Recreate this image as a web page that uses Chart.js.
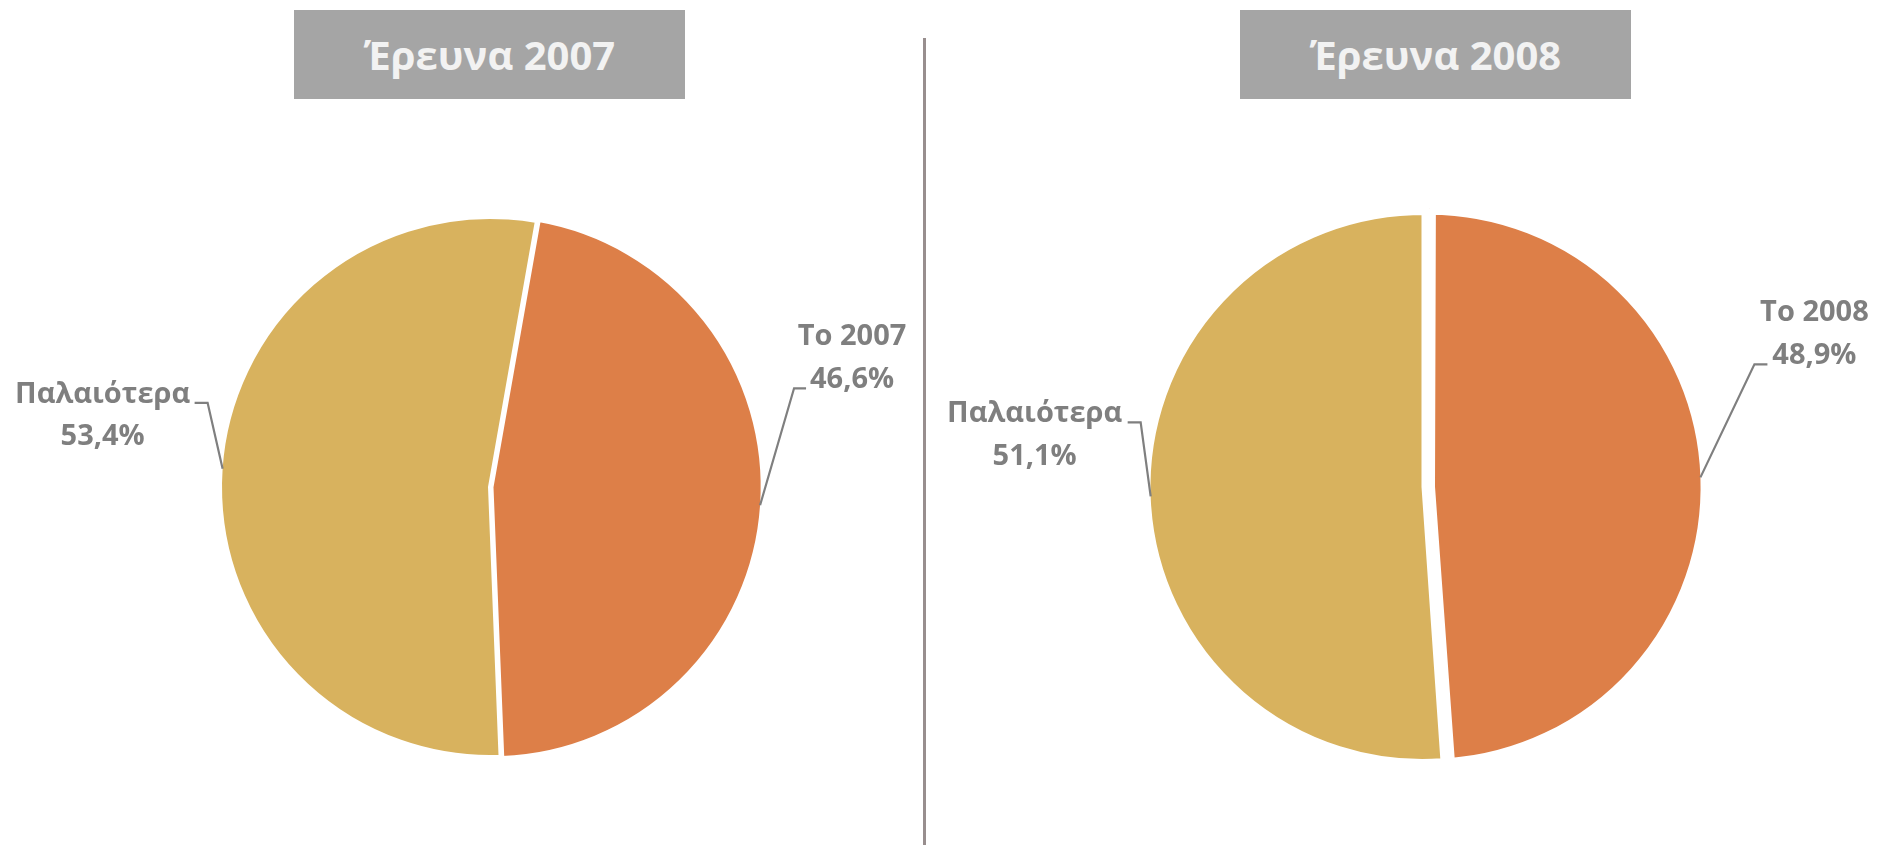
<!DOCTYPE html>
<html>
<head>
<meta charset="utf-8">
<script src="https://cdn.jsdelivr.net/npm/chart.js@4"></script>
<style>
  body { margin: 0; background: #fff; }
  #wrap { position: relative; width: 1889px; height: 845px; overflow: hidden; }
  canvas { position: absolute; left: 0; top: 0; }
  .title {
    position: absolute; top: 10px; height: 89px; width: 391px;
    background: #a5a5a5; color: #f2f2f2;
    font: bold 40px "Open Sans", sans-serif;
    display: flex; align-items: center; justify-content: center;
  }
  #divider { position: absolute; left: 923px; top: 38px; width: 3px; height: 810px; background: #988e8e; }
</style>
</head>
<body>
<div id="wrap">
  <div class="title" id="title1" style="left:294px"></div>
  <div class="title" id="title2" style="left:1240px"></div>
  <div id="divider"></div>
  <canvas id="pie2007" width="1889" height="845"></canvas>
  <canvas id="pie2008" width="1889" height="845"></canvas>
</div>
<script>
const titles = ['Έρευνα 2007', 'Έρευνα 2008'];
const categories2007 = ['Το 2007', 'Παλαιότερα'];
const values2007 = [46.6, 53.4];
const categories2008 = ['Το 2008', 'Παλαιότερα'];
const values2008 = [48.9, 51.1];

const colors = ['#dd7f48', '#d8b25e'];

document.getElementById('title1').textContent = titles[0];
document.getElementById('title2').textContent = titles[1];

function fmt(v) {
    return v.toFixed(1).replace('.', ',') + '%';
}

// labels with elbow leader lines, anchored at the middle of each slice's rim
const leaderLabels = {
    id: 'leaderLabels',
    afterDatasetsDraw(chart, args, opts) {
        const ctx = chart.ctx;
        const ds = chart.data.datasets[0];
        chart.getDatasetMeta(0).data.forEach((arc, i) => {
            const p = arc.getProps(['x', 'y', 'startAngle', 'endAngle', 'outerRadius'], true);
            const mid = (p.startAngle + p.endAngle) / 2;
            // chart.js moves an offset arc by offset/4 and grows it a little
            const shift = (ds.offset[i] || 0) / 4;
            const grow = shift * (1 - Math.sin(Math.min(Math.PI, p.endAngle - p.startAngle)));
            const r = p.outerRadius + grow - ds.borderWidth[i] / 2;
            const ex = p.x + Math.cos(mid) * (r + shift);
            const ey = p.y + Math.sin(mid) * (r + shift);
            const L = opts.layout[i];
            const bx = ex + L.elbow[0], by = ey + L.elbow[1];
            ctx.save();
            ctx.strokeStyle = '#7f7f7f';
            ctx.lineWidth = 2.2;
            ctx.beginPath();
            ctx.moveTo(ex, ey);
            ctx.lineTo(bx, by);
            ctx.lineTo(bx + L.tail, by);
            ctx.stroke();
            ctx.fillStyle = '#7f7f7f';
            ctx.font = 'bold 29px "Open Sans"';
            ctx.textAlign = 'center';
            ctx.textBaseline = 'alphabetic';
            ctx.fillText(chart.data.labels[i], bx + L.text[0], by + L.text[1]);
            ctx.fillText(fmt(ds.data[i]), bx + L.text[0], by + L.text[2]);
            ctx.restore();
        });
    }
};

function makePie(id, labels, values, opt) {
    return new Chart(document.getElementById(id), {
        type: 'pie',
        data: {
            labels: labels,
            datasets: [{
                data: values,
                backgroundColor: colors,
                borderColor: '#ffffff',
                borderWidth: opt.border,
                offset: opt.offset
            }]
        },
        options: {
            responsive: false,
            animation: false,
            rotation: opt.rotation,
            radius: opt.radius,
            layout: { padding: opt.padding },
            plugins: {
                legend: { display: false },
                tooltip: { enabled: false },
                leaderLabels: { layout: opt.labelLayout }
            }
        },
        plugins: [leaderLabels]
    });
}

makePie('pie2007', categories2007, values2007, {
    rotation: 10,
    radius: 270,
    border: [4, 4],
    offset: [6, 0],
    padding: { left: 0, right: 1889 - 2 * 490, top: 2 * 487 - 845, bottom: 0 },
    labelLayout: [
        { elbow: [34, -117], tail: 12, text: [58, -43, 0] },
        { elbow: [-15, -66], tail: -13, text: [-105, 0, 42] }
    ]
});

makePie('pie2008', categories2008, values2008, {
    rotation: 0,
    radius: 273,
    border: [13, 2],
    offset: [24, 0],
    padding: { left: 2 * 1422.5 - 1889, right: 0, top: 2 * 487 - 845, bottom: 0 },
    labelLayout: [
        { elbow: [54, -113], tail: 13, text: [60, -43, 0] },
        { elbow: [-10, -74], tail: -13, text: [-106, 0, 43] }
    ]
});
</script>
</body>
</html>
